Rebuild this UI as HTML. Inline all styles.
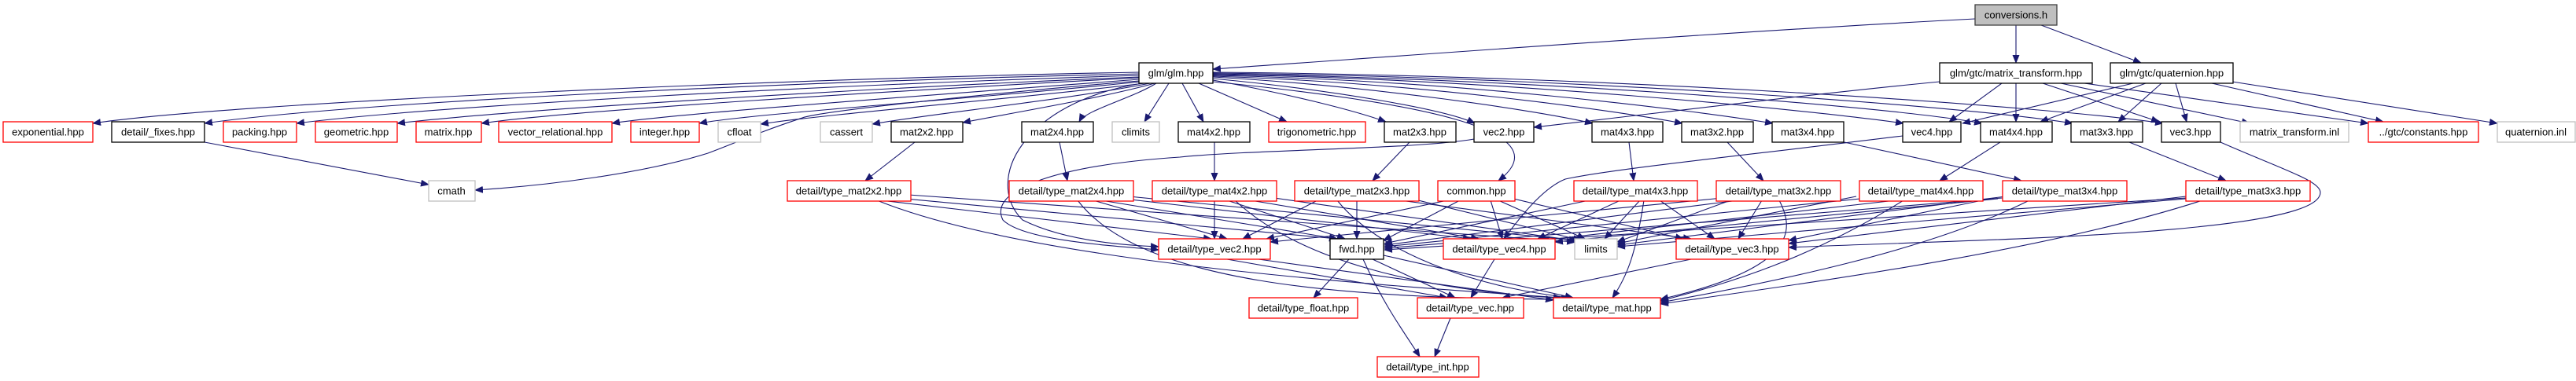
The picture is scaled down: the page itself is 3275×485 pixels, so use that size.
<!DOCTYPE html>
<html><head><meta charset="utf-8"><style>
html,body{margin:0;padding:0;background:#fff;}
svg{display:block;}
text{font-family:"Liberation Sans",Arial,sans-serif;font-size:13px;fill:#000;}
.b rect{fill:#fff;stroke:#000;stroke-width:1.3}
.r rect{fill:#fff;stroke:#ff0000;stroke-width:1.3}
.g rect{fill:#fff;stroke:#bfbfbf;stroke-width:1.3}
.e path{fill:none;stroke:#191970;stroke-width:1.1;marker-end:url(#a)}
</style></head><body>
<svg width="3275" height="485" viewBox="0 0 3275 485" xmlns="http://www.w3.org/2000/svg">
<defs><marker id="a" markerUnits="userSpaceOnUse" markerWidth="11" markerHeight="9" refX="10" refY="4.5" orient="auto"><path d="M0,0 L11,4.5 L0,9 z" fill="#191970"/></marker></defs>
<g class="e">
<path d="M2511,24 C2200,40 1800,70 1542,88"/>
<path d="M2563,32 L2563,80"/>
<path d="M2595,32 L2722,80"/>
<path d="M1448,92 C1000,100 300,130 118,157"/>
<path d="M1448,94 C1000,104 450,130 260,157"/>
<path d="M1448,96 C1050,108 550,135 377,157"/>
<path d="M1448,98 C1100,112 650,140 505,157"/>
<path d="M1448,99 C1150,115 730,140 612,157"/>
<path d="M1448,101 C1200,120 850,145 778,157"/>
<path d="M1450,104 C1250,125 950,145 889,157"/>
<path d="M1455,106 C1300,125 1050,145 967,158"/>
<path d="M1462,106 C1350,128 1180,145 1109,158"/>
<path d="M1468,106 C1400,125 1280,145 1224,156"/>
<path d="M1470,106 C1440,125 1380,140 1372,155"/>
<path d="M1486,106 L1455,155"/>
<path d="M1503,106 L1530,155"/>
<path d="M1524,106 L1636,155"/>
<path d="M1542,102 C1640,120 1720,140 1762,155"/>
<path d="M1542,100 C1700,115 1840,140 1875,157"/>
<path d="M1542,98 C1750,110 1950,140 2025,157"/>
<path d="M1542,97 C1800,105 2050,140 2139,157"/>
<path d="M1542,96 C1850,102 2150,140 2254,157"/>
<path d="M1542,95 C1900,100 2300,140 2420,157"/>
<path d="M1542,94 C1950,100 2400,135 2520,157"/>
<path d="M1542,93 C2000,98 2500,135 2635,157"/>
<path d="M1542,92 C2050,96 2600,135 2750,157"/>
<path d="M1448,103 C1300,115 1050,140 1020,150 C960,170 940,180 900,195 C820,220 700,236 604,242"/>
<path d="M260,181 L545,235"/>
<path d="M1542,104 C1800,130 1990,165 1905,230"/>
<path d="M1452,106 C1300,130 1250,230 1300,280 C1350,305 1420,312 1473,314"/>
<path d="M2466,104 C2300,120 2100,145 1950,162"/>
<path d="M2545,106 L2478,155"/>
<path d="M2563,106 L2563,155"/>
<path d="M2597,106 L2745,155"/>
<path d="M2620,106 L2860,157"/>
<path d="M2650,106 L3011,157"/>
<path d="M2712,106 L2495,157"/>
<path d="M2728,106 L2594,155"/>
<path d="M2748,106 L2693,155"/>
<path d="M2766,106 L2780,155"/>
<path d="M2812,106 L3030,155"/>
<path d="M2838,104 L3175,157"/>
<path d="M1163,181 L1100,230"/>
<path d="M1347,181 L1357,230"/>
<path d="M1544,181 L1544,230"/>
<path d="M1792,181 L1745,230"/>
<path d="M2071,181 L2077,230"/>
<path d="M2196,181 L2242,230"/>
<path d="M2340,180 L2570,230"/>
<path d="M2543,181 L2466,230"/>
<path d="M2707,181 L2830,230"/>
<path d="M2419,173 C2200,200 2050,215 1990,228 C1960,240 1930,280 1912,304"/>
<path d="M2823,181 C2900,215 2950,230 2950,245 C2950,300 2500,305 2274,315"/>
<path d="M1874,177 C1800,190 1600,190 1500,200 C1350,210 1255,240 1275,280 C1300,305 1400,312 1473,318"/>
<path d="M1120,255 L1540,304"/>
<path d="M1140,252 L1700,304"/>
<path d="M1155,248 L2002,308"/>
<path d="M1115,255 C1300,330 1700,360 1985,379"/>
<path d="M1390,255 L1560,304"/>
<path d="M1400,255 L1700,304"/>
<path d="M1420,252 L1870,304"/>
<path d="M1435,250 L2005,306"/>
<path d="M1370,255 C1450,360 1700,380 1990,381"/>
<path d="M1544,255 L1544,304"/>
<path d="M1560,255 L1710,304"/>
<path d="M1590,255 L1880,304"/>
<path d="M1620,252 L2008,307"/>
<path d="M1570,255 C1650,330 1800,370 1995,380"/>
<path d="M1675,255 L1580,304"/>
<path d="M1725,255 L1725,304"/>
<path d="M1780,255 L2150,304"/>
<path d="M1795,253 L2010,306"/>
<path d="M1700,255 C1760,330 1900,370 2000,379"/>
<path d="M1840,255 L1610,304"/>
<path d="M1856,255 L1759,306"/>
<path d="M1895,255 L1910,304"/>
<path d="M1905,255 L2015,304"/>
<path d="M1920,252 L2140,304"/>
<path d="M2085,255 L2040,304"/>
<path d="M2110,255 L2180,304"/>
<path d="M2060,255 L1955,304"/>
<path d="M2020,255 L1760,310"/>
<path d="M2090,255 C2080,320 2070,350 2050,379"/>
<path d="M2210,255 L1760,312"/>
<path d="M2240,255 L2210,304"/>
<path d="M2200,255 L2056,308"/>
<path d="M2190,252 L1615,308"/>
<path d="M2262,255 C2280,290 2290,340 2111,381"/>
<path d="M2410,255 L1960,306"/>
<path d="M2375,252 L1760,314"/>
<path d="M2360,250 L2056,310"/>
<path d="M2420,255 C2300,330 2200,360 2111,383"/>
<path d="M2520,255 L2274,306"/>
<path d="M2540,253 L1977,308"/>
<path d="M2550,250 L2056,312"/>
<path d="M2546,252 L1760,316"/>
<path d="M2580,255 C2450,320 2250,360 2111,385"/>
<path d="M2779,250 L2274,310"/>
<path d="M2779,253 L2056,314"/>
<path d="M2779,252 L1760,318"/>
<path d="M2800,255 C2600,320 2300,360 2111,387"/>
<path d="M1715,330 L1670,379"/>
<path d="M1745,330 L1850,379"/>
<path d="M1759,325 L2000,379"/>
<path d="M1733,330 C1760,390 1790,430 1805,454"/>
<path d="M1560,330 L1840,379"/>
<path d="M1600,330 L1975,382"/>
<path d="M1900,330 L1870,379"/>
<path d="M2150,330 L1910,379"/>
<path d="M1844,405 L1824,454"/>
</g>
<g class="g" ><rect x="2511" y="6" width="104" height="26" style="fill:#bfbfbf;stroke:#404040"/><text x="2563" y="23.5" text-anchor="middle">conversions.h</text></g>
<g class="b"><rect x="1448" y="80" width="94" height="26"/><text x="1495" y="97.5" text-anchor="middle">glm/glm.hpp</text></g>
<g class="b"><rect x="2466" y="80" width="194" height="26"/><text x="2563" y="97.5" text-anchor="middle">glm/gtc/matrix_transform.hpp</text></g>
<g class="b"><rect x="2683" y="80" width="156" height="26"/><text x="2761" y="97.5" text-anchor="middle">glm/gtc/quaternion.hpp</text></g>
<g class="r"><rect x="4" y="155" width="114" height="26"/><text x="61" y="172.5" text-anchor="middle">exponential.hpp</text></g>
<g class="b"><rect x="142" y="155" width="118" height="26"/><text x="201" y="172.5" text-anchor="middle">detail/_fixes.hpp</text></g>
<g class="r"><rect x="284" y="155" width="93" height="26"/><text x="330" y="172.5" text-anchor="middle">packing.hpp</text></g>
<g class="r"><rect x="401" y="155" width="104" height="26"/><text x="453" y="172.5" text-anchor="middle">geometric.hpp</text></g>
<g class="r"><rect x="529" y="155" width="83" height="26"/><text x="570" y="172.5" text-anchor="middle">matrix.hpp</text></g>
<g class="r"><rect x="634" y="155" width="144" height="26"/><text x="706" y="172.5" text-anchor="middle">vector_relational.hpp</text></g>
<g class="r"><rect x="802" y="155" width="87" height="26"/><text x="845" y="172.5" text-anchor="middle">integer.hpp</text></g>
<g class="g"><rect x="913" y="155" width="54" height="26"/><text x="940" y="172.5" text-anchor="middle">cfloat</text></g>
<g class="g"><rect x="1043" y="155" width="66" height="26"/><text x="1076" y="172.5" text-anchor="middle">cassert</text></g>
<g class="b"><rect x="1133" y="155" width="91" height="26"/><text x="1178" y="172.5" text-anchor="middle">mat2x2.hpp</text></g>
<g class="b"><rect x="1299" y="155" width="91" height="26"/><text x="1344" y="172.5" text-anchor="middle">mat2x4.hpp</text></g>
<g class="g"><rect x="1414" y="155" width="60" height="26"/><text x="1444" y="172.5" text-anchor="middle">climits</text></g>
<g class="b"><rect x="1498" y="155" width="91" height="26"/><text x="1543" y="172.5" text-anchor="middle">mat4x2.hpp</text></g>
<g class="r"><rect x="1613" y="155" width="123" height="26"/><text x="1674" y="172.5" text-anchor="middle">trigonometric.hpp</text></g>
<g class="b"><rect x="1760" y="155" width="91" height="26"/><text x="1805" y="172.5" text-anchor="middle">mat2x3.hpp</text></g>
<g class="b"><rect x="1874" y="155" width="76" height="26"/><text x="1912" y="172.5" text-anchor="middle">vec2.hpp</text></g>
<g class="b"><rect x="2024" y="155" width="90" height="26"/><text x="2069" y="172.5" text-anchor="middle">mat4x3.hpp</text></g>
<g class="b"><rect x="2138" y="155" width="91" height="26"/><text x="2183" y="172.5" text-anchor="middle">mat3x2.hpp</text></g>
<g class="b"><rect x="2253" y="155" width="91" height="26"/><text x="2298" y="172.5" text-anchor="middle">mat3x4.hpp</text></g>
<g class="b"><rect x="2419" y="155" width="74" height="26"/><text x="2456" y="172.5" text-anchor="middle">vec4.hpp</text></g>
<g class="b"><rect x="2518" y="155" width="91" height="26"/><text x="2563" y="172.5" text-anchor="middle">mat4x4.hpp</text></g>
<g class="b"><rect x="2633" y="155" width="91" height="26"/><text x="2678" y="172.5" text-anchor="middle">mat3x3.hpp</text></g>
<g class="b"><rect x="2748" y="155" width="75" height="26"/><text x="2785" y="172.5" text-anchor="middle">vec3.hpp</text></g>
<g class="g"><rect x="2848" y="155" width="138" height="26"/><text x="2917" y="172.5" text-anchor="middle">matrix_transform.inl</text></g>
<g class="r"><rect x="3011" y="155" width="140" height="26"/><text x="3081" y="172.5" text-anchor="middle">../gtc/constants.hpp</text></g>
<g class="g"><rect x="3175" y="155" width="99" height="26"/><text x="3224" y="172.5" text-anchor="middle">quaternion.inl</text></g>
<g class="g"><rect x="545" y="230" width="59" height="26"/><text x="574" y="247.5" text-anchor="middle">cmath</text></g>
<g class="r"><rect x="1001" y="230" width="157" height="26"/><text x="1079" y="247.5" text-anchor="middle">detail/type_mat2x2.hpp</text></g>
<g class="r"><rect x="1283" y="230" width="158" height="26"/><text x="1362" y="247.5" text-anchor="middle">detail/type_mat2x4.hpp</text></g>
<g class="r"><rect x="1465" y="230" width="158" height="26"/><text x="1544" y="247.5" text-anchor="middle">detail/type_mat4x2.hpp</text></g>
<g class="r"><rect x="1646" y="230" width="158" height="26"/><text x="1725" y="247.5" text-anchor="middle">detail/type_mat2x3.hpp</text></g>
<g class="r"><rect x="1828" y="230" width="98" height="26"/><text x="1877" y="247.5" text-anchor="middle">common.hpp</text></g>
<g class="r"><rect x="2001" y="230" width="157" height="26"/><text x="2079" y="247.5" text-anchor="middle">detail/type_mat4x3.hpp</text></g>
<g class="r"><rect x="2182" y="230" width="158" height="26"/><text x="2261" y="247.5" text-anchor="middle">detail/type_mat3x2.hpp</text></g>
<g class="r"><rect x="2364" y="230" width="157" height="26"/><text x="2442" y="247.5" text-anchor="middle">detail/type_mat4x4.hpp</text></g>
<g class="r"><rect x="2546" y="230" width="158" height="26"/><text x="2625" y="247.5" text-anchor="middle">detail/type_mat3x4.hpp</text></g>
<g class="r"><rect x="2779" y="230" width="158" height="26"/><text x="2858" y="247.5" text-anchor="middle">detail/type_mat3x3.hpp</text></g>
<g class="r"><rect x="1473" y="304" width="142" height="26"/><text x="1544" y="321.5" text-anchor="middle">detail/type_vec2.hpp</text></g>
<g class="b"><rect x="1691" y="304" width="68" height="26"/><text x="1725" y="321.5" text-anchor="middle">fwd.hpp</text></g>
<g class="r"><rect x="1835" y="304" width="142" height="26"/><text x="1906" y="321.5" text-anchor="middle">detail/type_vec4.hpp</text></g>
<g class="g"><rect x="2002" y="304" width="54" height="26"/><text x="2029" y="321.5" text-anchor="middle">limits</text></g>
<g class="r"><rect x="2131" y="304" width="143" height="26"/><text x="2202" y="321.5" text-anchor="middle">detail/type_vec3.hpp</text></g>
<g class="r"><rect x="1588" y="379" width="138" height="26"/><text x="1657" y="396.5" text-anchor="middle">detail/type_float.hpp</text></g>
<g class="r"><rect x="1802" y="379" width="135" height="26"/><text x="1869" y="396.5" text-anchor="middle">detail/type_vec.hpp</text></g>
<g class="r"><rect x="1975" y="379" width="136" height="26"/><text x="2043" y="396.5" text-anchor="middle">detail/type_mat.hpp</text></g>
<g class="r"><rect x="1751" y="454" width="129" height="26"/><text x="1815" y="471.5" text-anchor="middle">detail/type_int.hpp</text></g>
</svg>
</body></html>
